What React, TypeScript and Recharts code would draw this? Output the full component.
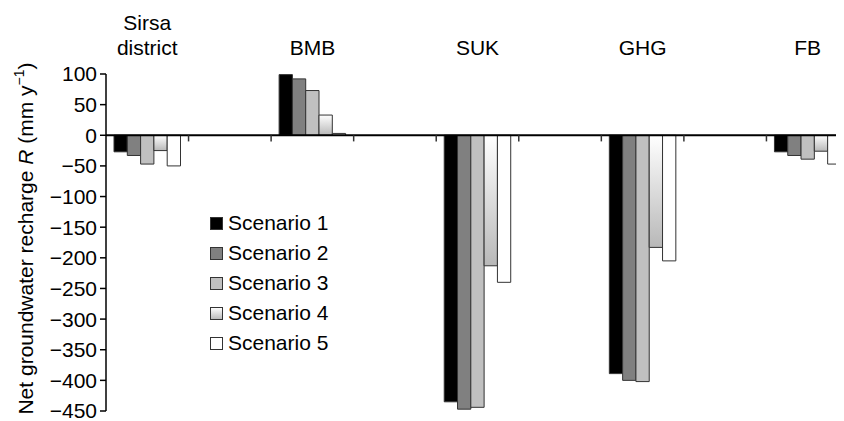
import { BarChart, Bar, XAxis, YAxis, ReferenceLine, Legend } from 'recharts'

const sites = ['Sirsa district', 'BMB', 'SUK', 'GHG', 'FB']
const scenarios = ['Scenario 1', 'Scenario 2', 'Scenario 3', 'Scenario 4', 'Scenario 5']
const scenario1 = [-27, 99, -435, -389, -27]
const scenario2 = [-33, 92, -447, -400, -33]
const scenario3 = [-47, 73, -444, -402, -39]
const scenario4 = [-25, 33, -213, -183, -26]
const scenario5 = [-50, 3, -240, -205, -47]
const yTicks = [100, 50, 0, -50, -100, -150, -200, -250, -300, -350, -400, -450]

const FONT = '"Liberation Sans", Arial, sans-serif'
const fills = ['#000000', '#808080', '#c0c0c0', 'url(#grad4)', '#ffffff']
const series = [scenario1, scenario2, scenario3, scenario4, scenario5]

// sites separated by empty gap categories
const chartData: any[] = []
sites.forEach((site, i) => {
  if (i > 0) chartData.push({ name: `gap${i}` })
  const row: any = { name: site }
  series.forEach((s, k) => { row[`s${k + 1}`] = s[i] })
  chartData.push(row)
})
const boundaries = chartData.slice(1).map((d) => d.name)

const fmt = (v: number) => (v < 0 ? '\u2212' + Math.abs(v) : String(v))

const SiteTick = ({ x, y, payload }: any) => {
  const name: string = payload.value
  if (name.startsWith('gap')) return null
  const lines = name === 'Sirsa district' ? ['Sirsa', 'district'] : [name]
  return (
    <text x={x} y={y} textAnchor="middle" fontFamily={FONT} fontSize={21} fill="#000">
      {lines.map((l, i) => (
        <tspan key={l} x={x} dy={i === 0 ? -19 - (lines.length - 1) * 25 : 25}>{l}</tspan>
      ))}
    </text>
  )
}

const YLabel = ({ viewBox }: any) => {
  const cx = viewBox.x + 25
  const cy = viewBox.y + viewBox.height / 2 - 4
  return (
    <text x={cx} y={cy} transform={`rotate(-90 ${cx} ${cy})`} textAnchor="middle" fontFamily={FONT} fontSize={21} fill="#000">
      Net groundwater recharge <tspan fontStyle="italic">R</tspan> (mm y
      <tspan fontSize={14} dy={-9}>{'\u22121'}</tspan>
      <tspan dy={9}>)</tspan>
    </text>
  )
}

const LegendBox = () => (
  <div style={{ fontFamily: FONT, fontSize: 21, color: '#000' }}>
    {scenarios.map((s, i) => (
      <div key={s} style={{ display: 'flex', alignItems: 'center', height: 30 }}>
        <svg width={13} height={13} style={{ marginRight: 5 }}>
          <defs>
            <linearGradient id="lgrad4" x1="0" y1="0" x2="0" y2="1">
              <stop offset="0" stopColor="#ffffff" />
              <stop offset="1" stopColor="#b8b8b8" />
            </linearGradient>
          </defs>
          <rect x={0.5} y={0.5} width={12} height={12} fill={i === 3 ? 'url(#lgrad4)' : fills[i]} stroke="#333" strokeWidth={1} />
        </svg>
        <span>{s}</span>
      </div>
    ))}
  </div>
)

export default function App() {
  return (
    <div style={{ width: 836, height: 413, overflow: 'hidden' }}>
      <BarChart width={841} height={413} data={chartData} margin={{ top: 0, right: 0, left: 0, bottom: 10 }} barSize={13.3} barGap={0}>
        <defs>
          <linearGradient id="grad4" x1="0" y1="0" x2="0" y2="1">
            <stop offset="0" stopColor="#ffffff" />
            <stop offset="1" stopColor="#b8b8b8" />
          </linearGradient>
        </defs>
        <XAxis dataKey="name" orientation="top" height={66} axisLine={false} tickLine={false} tickSize={0} tickMargin={0} interval={0} tick={<SiteTick />} />
        <YAxis
          width={98}
          domain={[-450, 100]}
          ticks={yTicks}
          interval={0}
          tickFormatter={fmt}
          tick={{ fontFamily: FONT, fontSize: 21, fill: '#000' }}
          tickSize={6}
          tickMargin={3}
          stroke="#000"
          strokeWidth={1.5}
          label={{ content: <YLabel /> }}
        />
        {scenarios.map((s, k) => (
          <Bar key={s} dataKey={`s${k + 1}`} name={s} fill={fills[k]} stroke="#333" strokeWidth={1} isAnimationActive={false} />
        ))}
        <ReferenceLine y={0} stroke="#000" strokeWidth={2} />
        {boundaries.map((b) => (
          <ReferenceLine key={b} position="start" segment={[{ x: b, y: 0 }, { x: b, y: -10 }]} stroke="#333" strokeWidth={1.5} />
        ))}
        <Legend layout="vertical" align="center" verticalAlign="middle" wrapperStyle={{ left: 202, top: 200, width: 160 }} content={<LegendBox />} />
      </BarChart>
    </div>
  )
}
